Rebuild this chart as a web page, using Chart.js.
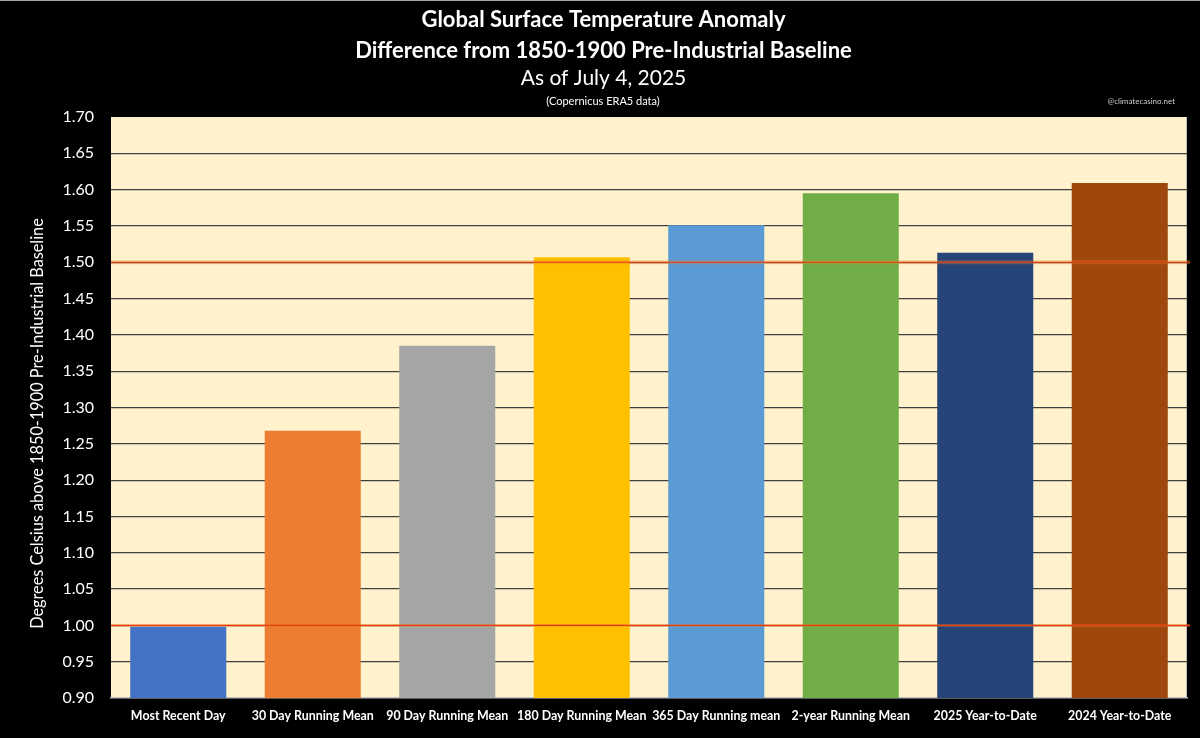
<!DOCTYPE html>
<html>
<head>
<meta charset="utf-8">
<title>Global Surface Temperature Anomaly</title>
<script src="https://cdn.jsdelivr.net/npm/chart.js@4"></script>
<style>
    html, body { margin: 0; padding: 0; background: #000; }
    canvas { display: block; }
</style>
</head>
<body>
<canvas id="myChart" width="1200" height="738"></canvas>
<script>
const categories = ['Most Recent Day', '30 Day Running Mean', '90 Day Running Mean', '180 Day Running Mean',
    '365 Day Running mean', '2-year Running Mean', '2025 Year-to-Date', '2024 Year-to-Date'];
const anomalies = [0.998, 1.268, 1.385, 1.507, 1.551, 1.595, 1.513, 1.609];
const barColors = ['#4472c4', '#ed7d31', '#a5a5a5', '#ffc000', '#5b9bd5', '#70ad47', '#264478', '#9e480e'];
const thresholds = [1.5, 1.0];

const fontFamily = 'Lato, "Open Sans", sans-serif';

// background of the plot, goes under the grid lines
const plotBackground = {
    id: 'plotBackground',
    beforeDraw: (chart) => {
        const { ctx, chartArea } = chart;
        ctx.save();
        ctx.fillStyle = '#fff2cc';
        ctx.fillRect(chartArea.left, chartArea.top, chartArea.width, chartArea.height);
        ctx.fillStyle = '#a6a6a6';
        ctx.fillRect(0, 0, chart.width, 1);
        ctx.fillStyle = '#bfbfbf';
        ctx.fillRect(chartArea.right - 1, chartArea.top, 1, chartArea.height);
        ctx.restore();
    }
};

// the 1.0 and 1.5 lines, soft wide stroke with a thin one on top, a bit past the plot on the right
const thresholdLines = {
    id: 'thresholdLines',
    afterDatasetsDraw: (chart) => {
        const { ctx, chartArea, scales } = chart;
        ctx.save();
        thresholds.forEach((level, i) => {
            const y = scales.y.getPixelForValue(level);
            ctx.beginPath();
            ctx.moveTo(chartArea.left, y);
            ctx.lineTo(chartArea.right + 3, y);
            ctx.strokeStyle = 'rgba(237,125,49,0.35)';
            ctx.lineWidth = i === 0 ? 4 : 3;
            ctx.stroke();
            ctx.strokeStyle = '#e63c0a';
            ctx.lineWidth = 1.1;
            ctx.stroke();
        });
        ctx.restore();
    }
};

// texts that sit off the library's usual spots
const sideTexts = {
    id: 'sideTexts',
    afterDraw: (chart) => {
        const { ctx } = chart;
        ctx.save();
        ctx.textBaseline = 'middle';
        ctx.fillStyle = '#ffffff';
        ctx.font = '11px ' + fontFamily;
        ctx.textAlign = 'center';
        ctx.fillText('(Copernicus ERA5 data)', 603, 101);
        ctx.save();
        ctx.translate(38, 423.5);
        ctx.rotate(-Math.PI / 2);
        ctx.font = '16.3px ' + fontFamily;
        ctx.fillText('Degrees Celsius above 1850-1900 Pre-Industrial Baseline', 0, 0);
        ctx.restore();
        ctx.fillStyle = '#cccccc';
        ctx.font = '8px ' + fontFamily;
        ctx.textAlign = 'right';
        ctx.fillText('@climatecasino.net', 1175, 101);
        ctx.restore();
    }
};

new Chart(document.getElementById('myChart'), {
    type: 'bar',
    data: {
        labels: categories,
        datasets: [{
            data: anomalies,
            backgroundColor: barColors,
            barPercentage: 0.714,
            categoryPercentage: 1
        }]
    },
    options: {
        responsive: false,
        animation: false,
        layout: { padding: { left: 20, right: 13, top: 0, bottom: 0 } },
        plugins: {
            legend: { display: false },
            tooltip: { enabled: false },
            title: {
                display: true,
                text: ['Global Surface Temperature Anomaly', 'Difference from 1850-1900 Pre-Industrial Baseline'],
                color: '#ffffff',
                font: { family: fontFamily, size: 22, weight: 'bold', lineHeight: 1.4 },
                padding: { top: 5, bottom: 0 }
            },
            subtitle: {
                display: true,
                text: 'As of July 4, 2025',
                color: '#ffffff',
                font: { family: fontFamily, size: 21, weight: 'normal', lineHeight: 1.1 },
                padding: { top: 0, bottom: 27.3 }
            }
        },
        scales: {
            x: {
                afterFit: (scale) => { scale.height = 40; },
                grid: { display: false },
                border: { color: '#bfbfbf', width: 1.5 },
                ticks: {
                    color: '#ffffff',
                    font: { family: fontFamily, size: 12.4, weight: 'bold' },
                    maxRotation: 0,
                    autoSkip: false,
                    padding: 3
                }
            },
            y: {
                min: 0.9,
                max: 1.7,
                afterFit: (scale) => { scale.width = 91; },
                grid: {
                    drawTicks: false,
                    lineWidth: 1.2,
                    color: (c) => (c.tick.value > 0.91 && c.tick.value < 1.69) ? '#404040' : 'rgba(0,0,0,0)'
                },
                border: { display: false },
                ticks: {
                    stepSize: 0.05,
                    color: '#ffffff',
                    font: { family: fontFamily, size: 16 },
                    padding: 17,
                    callback: (v) => v.toFixed(2)
                }
            }
        }
    },
    plugins: [plotBackground, thresholdLines, sideTexts]
});
</script>
</body>
</html>
